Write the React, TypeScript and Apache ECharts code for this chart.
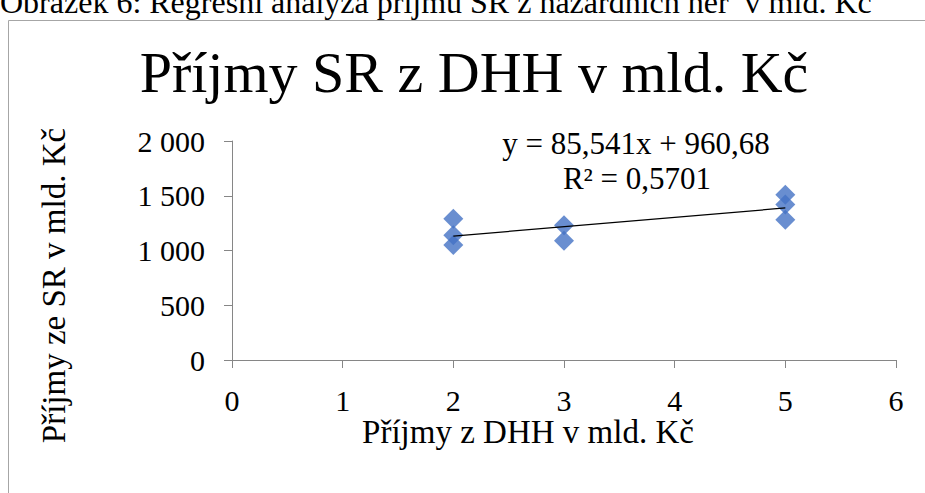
import React, { useEffect, useRef } from "react";
import * as echarts from "echarts";

const caption = "Obrázek 6: Regresní analýza příjmů SR z hazardních her  v mld. Kč";
const title = "Příjmy SR z DHH v mld. Kč";
const xName = "Příjmy z DHH v mld. Kč";
const yName = "Příjmy ze SR v mld. Kč";
const xValues = [2, 2, 2, 3, 3, 5, 5, 5];
const yValues = [1290, 1140, 1050, 1230, 1090, 1510, 1420, 1280];
const trendCoef = [85.541, 960.68];
const trendRange = [2, 5];
const equationText = "y = 85,541x + 960,68";
const r2Text = "R² = 0,5701";

const FONT = "'Liberation Serif', 'Times New Roman', serif";

export default function App() {
  const ref = useRef<HTMLDivElement>(null);
  useEffect(() => {
    if (!ref.current) return;
    const chart = echarts.init(ref.current, undefined, { renderer: "svg" });
    const points = xValues.map((x, i) => [x, yValues[i]]);
    const trend = trendRange.map((x) => [x, trendCoef[0] * x + trendCoef[1]]);
    chart.setOption({
      animation: false,
      backgroundColor: "#ffffff",
      textStyle: { fontFamily: FONT },
      grid: { left: 232, top: 141, width: 664, height: 219, containLabel: false },
      xAxis: {
        type: "value",
        min: 0,
        max: 6,
        interval: 1,
        name: xName,
        nameLocation: "middle",
        nameGap: 54,
        nameTextStyle: { fontFamily: FONT, fontSize: 33, color: "#000", padding: [0, 72, 0, 0] },
        axisLine: { show: true, lineStyle: { color: "#868686", width: 1 } },
        axisTick: { show: true, length: 8, lineStyle: { color: "#868686" } },
        axisLabel: { fontFamily: FONT, fontSize: 30, color: "#000", margin: 25 },
        splitLine: { show: false },
      },
      yAxis: {
        type: "value",
        min: 0,
        max: 2000,
        interval: 500,
        name: yName,
        nameLocation: "middle",
        nameGap: 162,
        nameTextStyle: { fontFamily: FONT, fontSize: 33, color: "#000", padding: [0, 70, 0, 0] },
        axisLine: { show: true, lineStyle: { color: "#868686", width: 1 } },
        axisTick: { show: true, length: 8, lineStyle: { color: "#868686" } },
        axisLabel: {
          fontFamily: FONT,
          fontSize: 30,
          color: "#000",
          margin: 27,
          formatter: (v: number) => String(v).replace(/\B(?=(\d{3})+(?!\d))/g, " "),
        },
        splitLine: { show: false },
      },
      series: [
        {
          type: "scatter",
          data: points,
          symbol: "diamond",
          symbolSize: 20,
          itemStyle: { color: "#4472C4" },
          z: 2,
        },
        {
          type: "line",
          data: trend,
          symbol: "none",
          lineStyle: { color: "#000", width: 1.2 },
          z: 3,
        },
      ],
      graphic: [
        {
          type: "rect",
          shape: { x: 8.5, y: 20.5, width: 920, height: 490 },
          style: { fill: "none", stroke: "#a6a6a6", lineWidth: 1 },
        },
        {
          type: "text",
          x: 0,
          y: -14,
          style: { text: caption, font: `32px ${FONT}`, fill: "#000", textVerticalAlign: "top" },
        },
        {
          type: "text",
          x: 474,
          y: 72,
          style: { text: title, font: `58px ${FONT}`, fill: "#000", align: "center", verticalAlign: "middle" },
        },
        {
          type: "text",
          x: 636,
          y: 143,
          style: { text: equationText, font: `31px ${FONT}`, fill: "#000", align: "center", verticalAlign: "middle" },
        },
        {
          type: "text",
          x: 637,
          y: 178,
          style: { text: r2Text, font: `31px ${FONT}`, fill: "#000", align: "center", verticalAlign: "middle" },
        },
      ],
    });
    return () => chart.dispose();
  }, []);
  return <div ref={ref} style={{ position: "fixed", left: 0, top: 0, width: 925, height: 493 }} />;
}
